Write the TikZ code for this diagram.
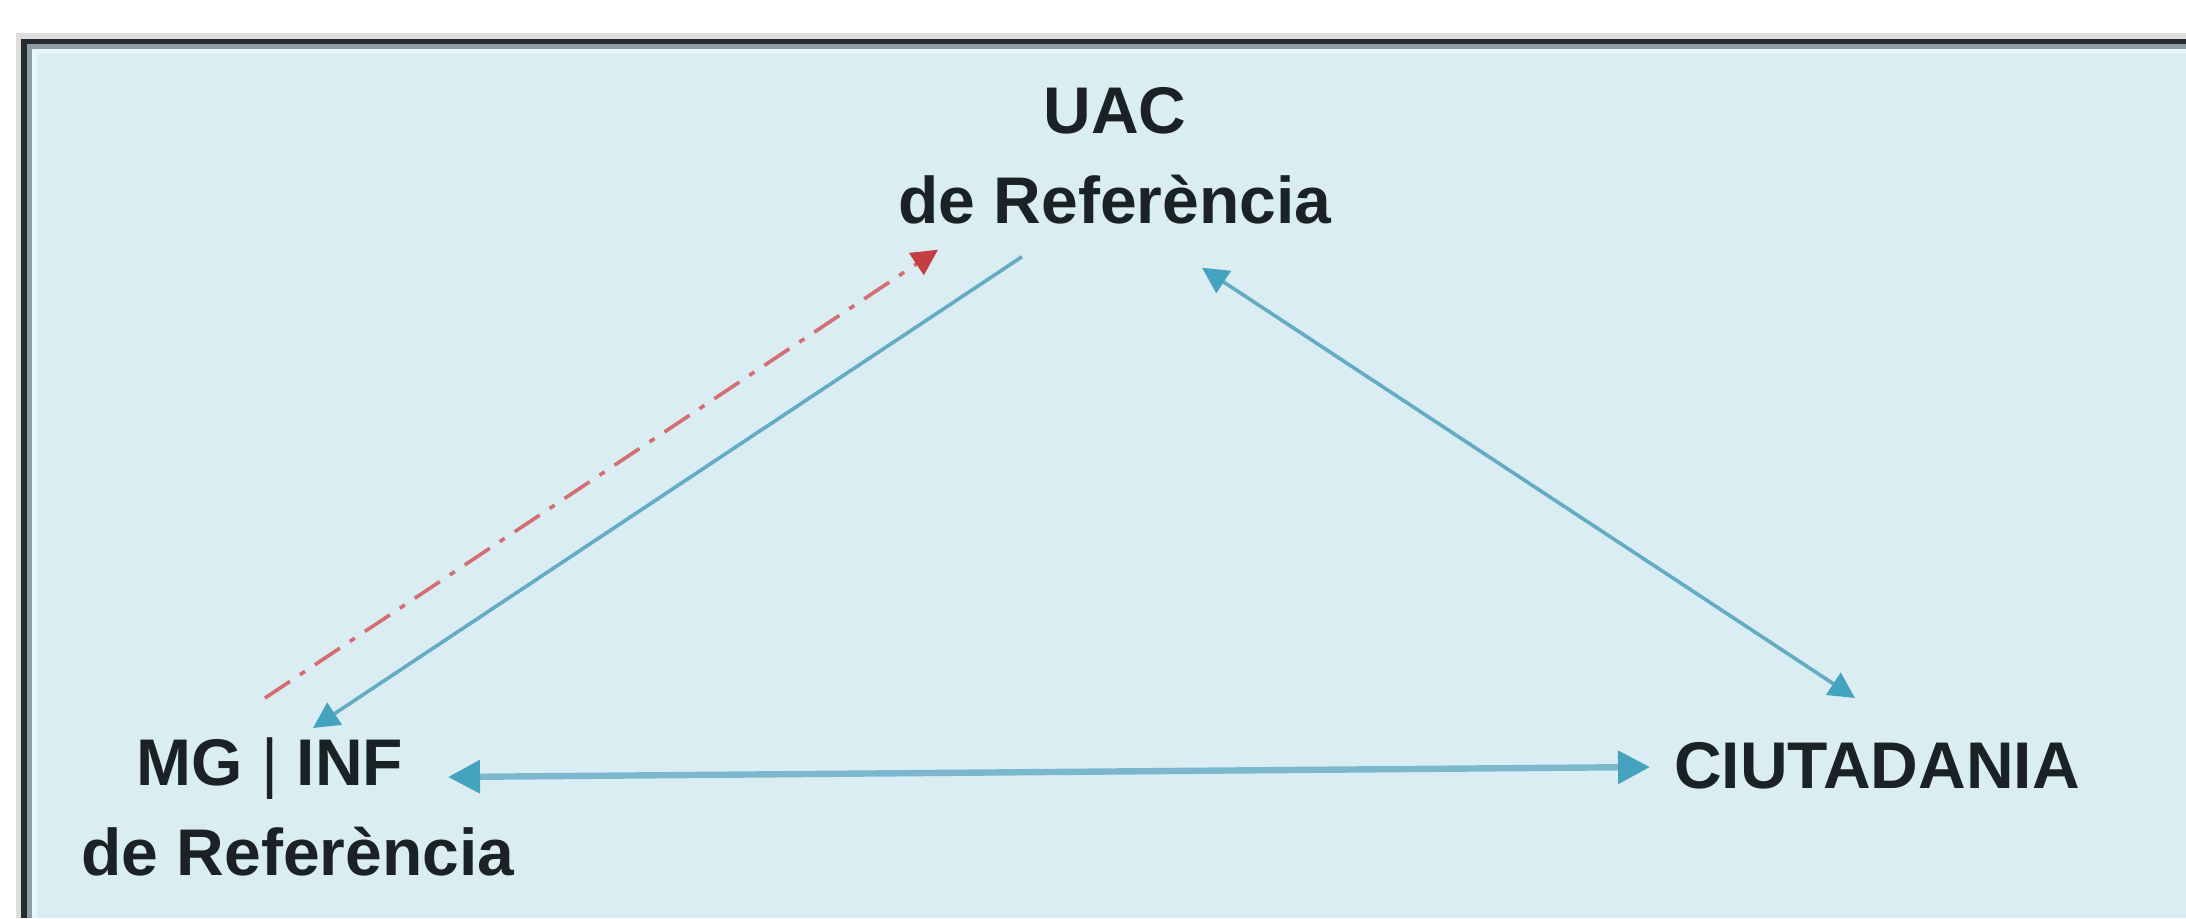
\documentclass[tikz,border=0pt]{standalone}
\usepackage{fontspec}
\setmainfont{Liberation Sans}
\usetikzlibrary{arrows.meta}
\definecolor{bgblue}{RGB}{218,237,242}
\definecolor{frameout}{RGB}{220,222,222}
\definecolor{framedark}{RGB}{36,44,48}
\definecolor{framegray}{RGB}{143,158,163}
\definecolor{framelight}{RGB}{230,247,251}
\definecolor{txt}{RGB}{27,34,38}
\definecolor{arrowblue}{RGB}{100,172,196}
\definecolor{headblue}{RGB}{70,163,192}
\definecolor{linkred}{RGB}{196,62,66}
\tikzset{
  lbl/.style={inner sep=0pt, outer sep=0pt, align=center, text=txt,
    font=\fontsize{33}{45}\selectfont\bfseries},
  bluelink/.style={draw=arrowblue, line width=1.8pt,
    arrows={-Triangle[length=13pt,width=13pt,fill=headblue,color=headblue]}},
  bluedouble/.style={draw=arrowblue, line width=1.8pt,
    arrows={Triangle[length=13pt,width=13pt,fill=headblue,color=headblue]-Triangle[length=13pt,width=13pt,fill=headblue,color=headblue]}},
  bluethick/.style={draw=arrowblue!85!white, line width=3.2pt,
    arrows={Triangle[length=16pt,width=16pt,fill=headblue,color=headblue]-Triangle[length=16pt,width=16pt,fill=headblue,color=headblue]}},
  redlink/.style={draw=linkred!75!white, line width=1.8pt,
    dash pattern=on 15pt off 6pt on 3pt off 6pt,
    arrows={-Triangle[length=13pt,width=13pt,fill=linkred,color=linkred]}}
}
\begin{document}
\begin{tikzpicture}[x=0.5pt,y=-0.5pt]
  % canvas
  \fill[white] (0,0) rectangle (2186,918);
  \useasboundingbox (0,0) rectangle (2186,918);
  % frame
  \fill[frameout] (16,33) rectangle (2186,918);
  \fill[framedark] (21,39) rectangle (2186,918);
  \fill[framegray] (27,44) rectangle (2186,918);
  \fill[framelight] (32,49) rectangle (2186,918);
  \fill[bgblue] (37,54) rectangle (2186,918);
  % nodes
  \node[lbl, anchor=north] (uac) at (1115,87) {UAC\\de Referència};
  \node[lbl, anchor=north] (mg) at (298,738) {MG {\mdseries|} INF\hspace*{28pt}\mbox{}\\de Referència};
  \node[lbl, anchor=north] (ciu) at (1877,742) {CIUTADANIA};
  % connectors
  \draw[redlink] ([xshift=-16.5pt,yshift=20pt]mg.north) -- ([xshift=-88.5pt,yshift=-13pt]uac.south);
  \draw[bluelink] ([xshift=-46.5pt,yshift=-16.5pt]uac.south) -- ([xshift=7.5pt,yshift=5pt]mg.north);
  \draw[bluedouble] ([xshift=43.5pt,yshift=-22pt]uac.south) -- ([xshift=-11pt,yshift=22pt]ciu.north);
  \draw[bluethick] ([xshift=75pt,yshift=-19.5pt]mg.north) -- ([xshift=-113.5pt,yshift=-12.5pt]ciu.north);
\end{tikzpicture}
\end{document}
